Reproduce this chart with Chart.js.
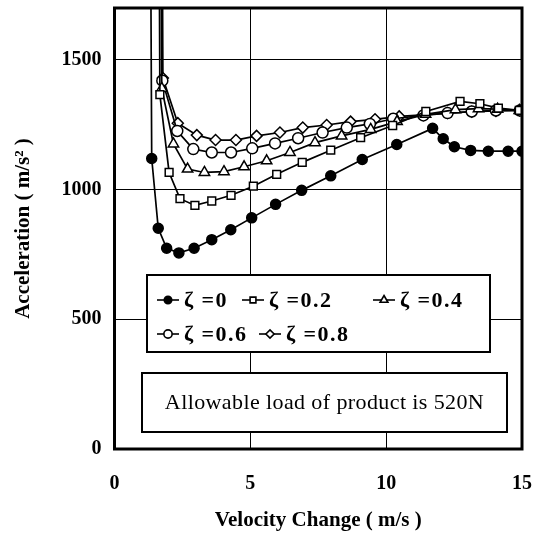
<!DOCTYPE html>
<html>
<head>
<meta charset="utf-8">
<script src="https://cdn.jsdelivr.net/npm/chart.js@4/dist/chart.umd.min.js"></script>
<style>
html,body{margin:0;padding:0;background:#fff;}
#wrap{width:535px;height:539px;}
</style>
</head>
<body>
<div id="wrap"><canvas id="c" width="535" height="539"></canvas></div>
<script>
// ---- data ----
const xTicks = [0, 5, 10, 15];
const yTicks = [0, 500, 1000, 1500];
const seriesLabels = ['ζ =0', 'ζ =0.2', 'ζ =0.4', 'ζ =0.6', 'ζ =0.8'];

const z0x = [1.30, 1.37, 1.61, 1.92, 2.37, 2.93, 3.58, 4.28, 5.05, 5.93, 6.89, 7.96, 9.12, 10.39, 11.71, 12.10, 12.51, 13.11, 13.76, 14.49, 15.0];
const z0y = [2600, 1120, 851, 774, 756, 774, 807, 845, 891, 943, 997, 1053, 1116, 1174, 1236, 1196, 1165, 1151, 1148, 1148, 1148];

const z2x = [1.62, 1.67, 2.01, 2.41, 2.96, 3.58, 4.29, 5.11, 5.97, 6.91, 7.96, 9.06, 10.24, 11.46, 12.72, 13.45, 14.13, 14.90];
const z2y = [2600, 1366, 1066, 965, 939, 956, 978, 1013, 1059, 1105, 1152, 1200, 1247, 1301, 1340, 1331, 1314, 1305];

const z4x = [1.68, 1.74, 2.17, 2.69, 3.31, 4.03, 4.77, 5.60, 6.46, 7.38, 8.36, 9.43, 10.40, 11.45, 12.55, 13.40, 14.10, 14.90];
const z4y = [2600, 1390, 1176, 1079, 1066, 1069, 1088, 1111, 1143, 1181, 1207, 1232, 1262, 1290, 1308, 1312, 1310, 1305];

const z6x = [1.72, 1.76, 2.31, 2.90, 3.58, 4.29, 5.07, 5.91, 6.76, 7.66, 8.55, 9.40, 10.26, 11.37, 12.26, 13.15, 14.04, 14.92];
const z6y = [2600, 1420, 1226, 1156, 1143, 1143, 1159, 1178, 1198, 1220, 1239, 1253, 1273, 1286, 1295, 1301, 1305, 1305];

const z8x = [1.74, 1.78, 2.33, 3.03, 3.72, 4.47, 5.23, 6.09, 6.93, 7.81, 8.69, 9.59, 10.48, 11.37, 12.26, 13.15, 14.04, 14.92];
const z8y = [2600, 1430, 1256, 1210, 1191, 1191, 1207, 1220, 1239, 1249, 1262, 1271, 1282, 1288, 1295, 1300, 1303, 1305];

const annotationText = 'Allowable load of product is 520N';
const xTitle = 'Velocity Change ( m/s )';
const yTitle = 'Acceleration ( m/s² )';

function pts(xs, ys){ return xs.map((x,i)=>({x:x, y:ys[i]})); }

const styles = [
  {pointStyle:'circle', fill:'#000', r:5},
  {pointStyle:'rect', fill:'#fff', r:5.5},
  {pointStyle:'triangle', fill:'#fff', r:6},
  {pointStyle:'circle', fill:'#fff', r:5.5},
  {pointStyle:'rectRot', fill:'#fff', r:5.5},
];
const allX = [z0x, z2x, z4x, z6x, z8x];
const allY = [z0y, z2y, z4y, z6y, z8y];

const datasets = seriesLabels.map((lab, i) => ({
  label: lab,
  data: pts(allX[i], allY[i]),
  showLine: true,
  borderColor: '#000',
  borderWidth: 1.7,
  pointStyle: styles[i].pointStyle,
  pointRadius: styles[i].r,
  pointBackgroundColor: styles[i].fill,
  pointBorderColor: '#000',
  pointBorderWidth: 1.5,
  tension: 0
}));

const serif = "'Liberation Serif', 'DejaVu Serif', serif";

const frame = {
  id: 'frame',
  afterDatasetsDraw(chart){
    const {ctx, chartArea:a} = chart;
    ctx.save();
    ctx.strokeStyle = '#000';
    ctx.lineWidth = 3;
    ctx.strokeRect(a.left, a.top, a.right - a.left, a.bottom - a.top);
    ctx.restore();
  }
};

const boxes = {
  id: 'boxes',
  afterDraw(chart){
    const ctx = chart.ctx;
    ctx.save();
    // legend box
    const lx = 147, ly = 275, lw = 343, lh = 77;
    ctx.fillStyle = '#fff';
    ctx.fillRect(lx, ly, lw, lh);
    ctx.strokeStyle = '#000';
    ctx.lineWidth = 2;
    ctx.strokeRect(lx, ly, lw, lh);
    ctx.font = 'bold 22px ' + serif;
    ctx.letterSpacing = '1.5px';
    ctx.textBaseline = 'middle';
    ctx.textAlign = 'left';
    const items = [
      {di:0, x:157, y:300}, {di:1, x:242, y:300}, {di:2, x:373, y:300},
      {di:3, x:157, y:334}, {di:4, x:259, y:334}
    ];
    items.forEach(it => {
      const ds = chart.data.datasets[it.di];
      ctx.strokeStyle = '#000';
      ctx.lineWidth = 1.6;
      ctx.beginPath(); ctx.moveTo(it.x, it.y); ctx.lineTo(it.x + 22, it.y); ctx.stroke();
      ctx.fillStyle = ds.pointBackgroundColor;
      Chart.helpers.drawPoint(ctx, {pointStyle: ds.pointStyle, radius: ds.pointRadius * 0.75, borderWidth: 1.3}, it.x + 11, it.y);
      ctx.fillStyle = '#000';
      ctx.fillText(ds.label, it.x + 27, it.y + 1);
    });
    ctx.letterSpacing = '0px';
    // annotation box
    const ax = 142, ay = 373, aw = 365, ah = 59;
    ctx.fillStyle = '#fff';
    ctx.fillRect(ax, ay, aw, ah);
    ctx.strokeStyle = '#000';
    ctx.lineWidth = 2;
    ctx.strokeRect(ax, ay, aw, ah);
    ctx.fillStyle = '#000';
    ctx.font = '22px ' + serif;
    ctx.letterSpacing = '0.4px';
    ctx.textAlign = 'center';
    ctx.fillText(annotationText, ax + aw / 2, ay + ah / 2 + 1);
    ctx.restore();
  }
};

function noPad(s){ s.paddingLeft = 0; s.paddingRight = 0; s.paddingTop = 0; s.paddingBottom = 0; }

new Chart(document.getElementById('c'), {
  type: 'scatter',
  data: { datasets },
  plugins: [frame, boxes],
  options: {
    responsive: false,
    animation: false,
    devicePixelRatio: 1,
    layout: { padding: { left: 0, right: 13, top: 8, bottom: 0 } },
    plugins: { legend: { display: false }, tooltip: { enabled: false } },
    scales: {
      x: {
        type: 'linear', min: 0, max: 15,
        afterFit(s){ s.height = 90; noPad(s); },
        afterBuildTicks(s){ s.ticks = xTicks.map(v => ({value: v})); },
        grid: { color: '#000', lineWidth: 1, drawTicks: false },
        border: { display: false },
        ticks: { color: '#000', padding: 23, maxRotation: 0, callback: v => String(v), font: { family: serif, size: 20, weight: 'bold' } },
        title: { display: true, text: xTitle, color: '#000', padding: { top: 6, bottom: 6 }, font: { family: serif, size: 21, weight: 'bold' } }
      },
      y: {
        type: 'linear', min: 0, max: 1700,
        afterFit(s){ s.width = 114.5; noPad(s); },
        afterBuildTicks(s){ s.ticks = yTicks.map(v => ({value: v})); },
        grid: { color: '#000', lineWidth: 1, drawTicks: false },
        border: { display: false },
        ticks: { color: '#000', padding: 13, callback: v => String(v), font: { family: serif, size: 20, weight: 'bold' } },
        title: { display: true, text: yTitle, color: '#000', padding: { top: 11, bottom: 0 }, font: { family: serif, size: 21, weight: 'bold' } }
      }
    }
  }
});
</script>
</body>
</html>
